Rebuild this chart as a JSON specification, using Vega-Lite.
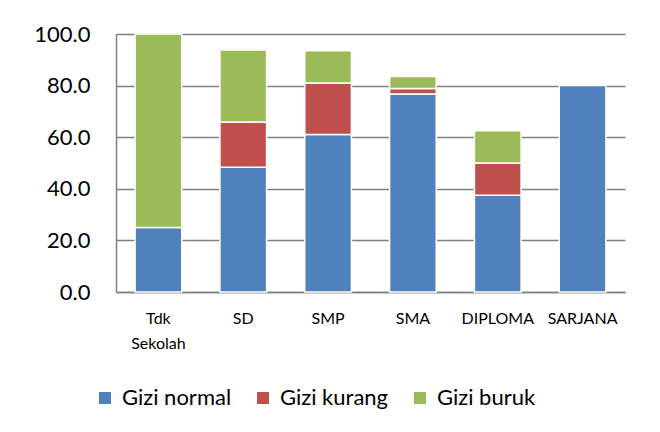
{
  "$schema": "https://vega.github.io/schema/vega-lite/v6.json",
  "width": 509,
  "height": 258,
  "autosize": {"type": "none"},
  "padding": {"left": 116, "top": 34, "right": 35, "bottom": 140},
  "background": "white",
  "config": {
    "font": "Lato",
    "view": {"stroke": null},
    "axis": {"labelFont": "Lato", "labelColor": "#000000"}
  },
  "data": {
    "values": [
      {"pendidikan": "Tdk Sekolah", "status": "Gizi normal", "urut": 1, "nilai": 25.0},
      {"pendidikan": "Tdk Sekolah", "status": "Gizi buruk", "urut": 3, "nilai": 75.0},
      {"pendidikan": "SD", "status": "Gizi normal", "urut": 1, "nilai": 48.4},
      {"pendidikan": "SD", "status": "Gizi kurang", "urut": 2, "nilai": 17.5},
      {"pendidikan": "SD", "status": "Gizi buruk", "urut": 3, "nilai": 27.9},
      {"pendidikan": "SMP", "status": "Gizi normal", "urut": 1, "nilai": 61.0},
      {"pendidikan": "SMP", "status": "Gizi kurang", "urut": 2, "nilai": 20.0},
      {"pendidikan": "SMP", "status": "Gizi buruk", "urut": 3, "nilai": 12.5},
      {"pendidikan": "SMA", "status": "Gizi normal", "urut": 1, "nilai": 76.7},
      {"pendidikan": "SMA", "status": "Gizi kurang", "urut": 2, "nilai": 2.2},
      {"pendidikan": "SMA", "status": "Gizi buruk", "urut": 3, "nilai": 4.6},
      {"pendidikan": "DIPLOMA", "status": "Gizi normal", "urut": 1, "nilai": 37.5},
      {"pendidikan": "DIPLOMA", "status": "Gizi kurang", "urut": 2, "nilai": 12.5},
      {"pendidikan": "DIPLOMA", "status": "Gizi buruk", "urut": 3, "nilai": 12.5},
      {"pendidikan": "SARJANA", "status": "Gizi normal", "urut": 1, "nilai": 80.0}
    ]
  },
  "mark": {"type": "bar", "stroke": "white", "strokeWidth": 1.5},
  "encoding": {
    "x": {
      "field": "pendidikan",
      "type": "nominal",
      "sort": ["Tdk Sekolah", "SD", "SMP", "SMA", "DIPLOMA", "SARJANA"],
      "scale": {"paddingInner": 0.45, "paddingOuter": 0.225},
      "axis": {
        "title": null,
        "labelAngle": 0,
        "labelFontSize": 16,
        "labelPadding": 18,
        "labelBaseline": "top",
        "labelLineHeight": 25,
        "labelExpr": "split(datum.label, ' ')",
        "ticks": false,
        "domainColor": "#808080",
        "domainWidth": 1.5
      }
    },
    "y": {
      "field": "nilai",
      "type": "quantitative",
      "stack": "zero",
      "scale": {"domain": [0, 100], "nice": false},
      "axis": {
        "title": null,
        "values": [0, 20, 40, 60, 80, 100],
        "format": ".1f",
        "labelFontSize": 22,
        "labelPadding": 26,
        "ticks": false,
        "domainColor": "#808080",
        "domainWidth": 1.5,
        "gridColor": "#808080",
        "gridWidth": 1.5
      }
    },
    "color": {
      "field": "status",
      "type": "nominal",
      "sort": ["Gizi normal", "Gizi kurang", "Gizi buruk"],
      "scale": {
        "domain": ["Gizi normal", "Gizi kurang", "Gizi buruk"],
        "range": ["#4F81BD", "#C0504D", "#9BBB59"]
      },
      "legend": {
        "title": null,
        "orient": "none",
        "direction": "horizontal",
        "legendX": -22,
        "legendY": 353,
        "gridAlign": "none",
        "labelFontSize": 22,
        "labelColor": "#000000",
        "labelOffset": 6,
        "symbolType": "square",
        "symbolSize": 144,
        "symbolStrokeWidth": 0,
        "columnPadding": 20,
        "padding": 0
      }
    },
    "order": {"field": "urut", "type": "quantitative"}
  }
}
